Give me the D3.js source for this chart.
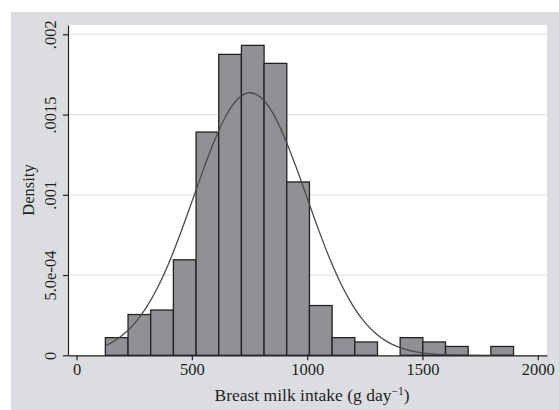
<!DOCTYPE html>
<html>
<head>
<meta charset="utf-8">
<script src="https://cdn.jsdelivr.net/npm/d3@7"></script>
<style>
body { margin: 0; background: #fff; }
text { font-family: "Liberation Serif", "Times New Roman", serif; fill: #1e1e1e; }
</style>
</head>
<body>
<svg width="559" height="410"></svg>
<script>
// histogram: 18 bins starting at binStart, width binWidth (g/day)
var binStart = 125, binWidth = 98.33;
var densities = [0.000110, 0.000254, 0.000282, 0.000595, 0.001391, 0.001875,
                 0.001931, 0.001819, 0.001080, 0.000310, 0.000110, 0.000083,
                 0, 0.000110, 0.000083, 0.000055, 0, 0.000055];

// normal curve points
var curveX = [125, 150, 200, 250, 300, 350, 400, 450, 500, 550, 600, 650, 700, 750,
              800, 850, 900, 950, 1000, 1050, 1100, 1150, 1200, 1250, 1300, 1350,
              1400, 1450, 1500, 1600, 1700, 1800, 1895];
var curveY = [0.000060, 0.000077, 0.000126, 0.000196, 0.000292, 0.000418, 0.000574,
              0.000757, 0.000956, 0.001157, 0.001344, 0.001497, 0.001598, 0.001636,
              0.001606, 0.001512, 0.001364, 0.001181, 0.000980, 0.000780, 0.000595,
              0.000435, 0.000305, 0.000205, 0.000133, 0.000082, 0.000049, 0.000028,
              0.000015, 0.000004, 0.000001, 0, 0];

var xTicks = [0, 500, 1000, 1500, 2000];
var yTicks = [0, 0.0005, 0.001, 0.0015, 0.002];
var yTickLabels = ["0", "5.0e-04", ".001", ".0015", ".002"];

const svg = d3.select("svg");

// gray graph region
svg.append("rect").attr("x", 11).attr("y", 12).attr("width", 548).attr("height", 398)
   .attr("fill", "#dcdde0");

const x = d3.scaleLinear().domain([-37, 2040]).range([68, 547]),
      y = d3.scaleLinear().domain([0, 0.002058]).range([355.3, 25]);

// plot region
svg.append("rect").attr("x", x.range()[0]).attr("y", y.range()[1])
   .attr("width", x.range()[1] - x.range()[0]).attr("height", y.range()[0] - y.range()[1])
   .attr("fill", "#fff");

// grid lines
svg.selectAll(".grid")
  .data(yTicks.slice(1))
  .enter().append("line")
    .attr("x1", x.range()[0]).attr("x2", x.range()[1])
    .attr("y1", d => y(d)).attr("y2", d => y(d))
    .attr("stroke", "#e4e4e4").attr("stroke-width", 1.2);

// bars
svg.selectAll(".bar")
  .data(densities)
  .enter().append("rect")
    .attr("class", "bar")
    .attr("x", (d, i) => x(binStart + i * binWidth))
    .attr("y", d => y(d))
    .attr("width", (d, i) => x(binStart + (i + 1) * binWidth) - x(binStart + i * binWidth))
    .attr("height", d => y(0) - y(d))
    .attr("fill", "#909195")
    .attr("stroke", d => d > 0 ? "#222" : "none")
    .attr("stroke-width", 1.3);

// normal density curve
const line = d3.line()
  .x((d, i) => x(curveX[i]))
  .y(d => y(d))
  .curve(d3.curveMonotoneX);

svg.append("path")
  .datum(curveY)
  .attr("d", line)
  .attr("fill", "none")
  .attr("stroke", "#4a4a4a")
  .attr("stroke-width", 1.3);

// axes
const xAxis = svg.append("g")
  .attr("transform", `translate(0,${y(0)})`)
  .call(d3.axisBottom(x).tickValues(xTicks).tickFormat(d3.format("d"))
        .tickSize(5).tickSizeOuter(0));
xAxis.selectAll("text").attr("y", 20).attr("dy", 0)
  .style("font-size", "16.5px");

const yAxis = svg.append("g")
  .attr("transform", `translate(${x.range()[0]},0)`)
  .call(d3.axisLeft(y).tickValues(yTicks).tickFormat((d, i) => yTickLabels[i])
        .tickSize(5).tickSizeOuter(0));
yAxis.selectAll("text")
  .attr("transform", "rotate(-90)")
  .attr("x", 0).attr("y", -12).attr("dy", 0)
  .attr("text-anchor", "middle")
  .style("font-size", "16.5px");

svg.selectAll(".domain, .tick line").attr("stroke", "#222").attr("stroke-width", 1.2);

// axis titles
const xt = svg.append("text")
  .attr("x", 312).attr("y", 401)
  .attr("text-anchor", "middle")
  .style("font-size", "17.5px");
xt.append("tspan").text("Breast milk intake (g day");
xt.append("tspan").attr("dy", -6).style("font-size", "11.5px").text("\u22121");
xt.append("tspan").attr("dy", 6).text(")");

svg.append("text")
  .attr("transform", "translate(34,190) rotate(-90)")
  .attr("text-anchor", "middle")
  .style("font-size", "16.5px")
  .text("Density");
</script>
</body>
</html>
